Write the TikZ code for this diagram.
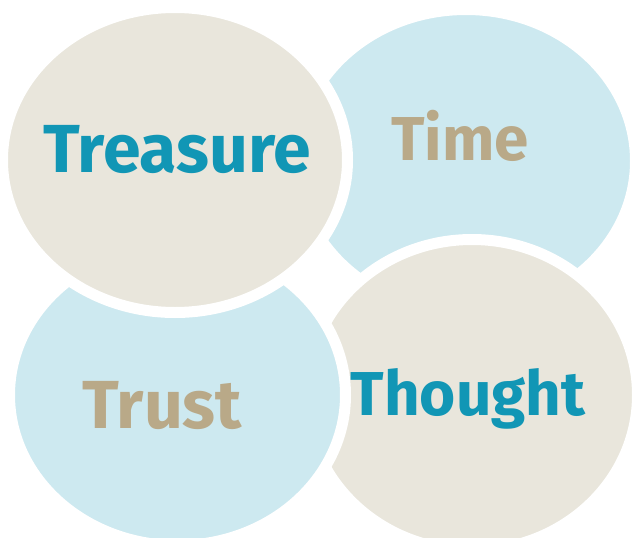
\documentclass[tikz,border=0pt]{standalone}
\usepackage{fontspec}
\setmainfont{Fira Sans}
\definecolor{sand}{HTML}{E9E6DC}
\definecolor{sky}{HTML}{CDE9F0}
\definecolor{teal}{HTML}{1196B5}
\definecolor{tan}{HTML}{B9A988}
\begin{document}
\begin{tikzpicture}[x=1pt,y=-1pt,
        blob/.style={fill=#1,draw=white,line width=11pt},
        word/.style={anchor=base,text=#1,inner sep=0pt,font=\fontsize{62}{62}\selectfont\bfseries},
        bigword/.style={word=#1,font=\fontsize{68}{68}\selectfont\bfseries}]
        \clip (0,0) rectangle (632,538);
        \fill[white] (0,0) rectangle (632,538);
        % back to front
        \path[blob=sky] (466,161) ellipse [x radius=169.5pt,y radius=151.5pt];
        \path[blob=sand] (472,395) ellipse [x radius=165.5pt,y radius=155.5pt];
        \path[blob=sky] (177.5,395) ellipse [x radius=168pt,y radius=150.5pt];
        \path[blob=sand] (175,160) ellipse [x radius=172.5pt,y radius=152.5pt];
        \node[bigword=teal] (treasure) at (177,172) {Treasure};
        \node[word=tan] (time) at (460,160) {Time};
        \node[bigword=tan] (trust) at (162,428) {Trust};
        \node[word=teal] (thought) at (468,415) {Thought};
\end{tikzpicture}
\end{document}
